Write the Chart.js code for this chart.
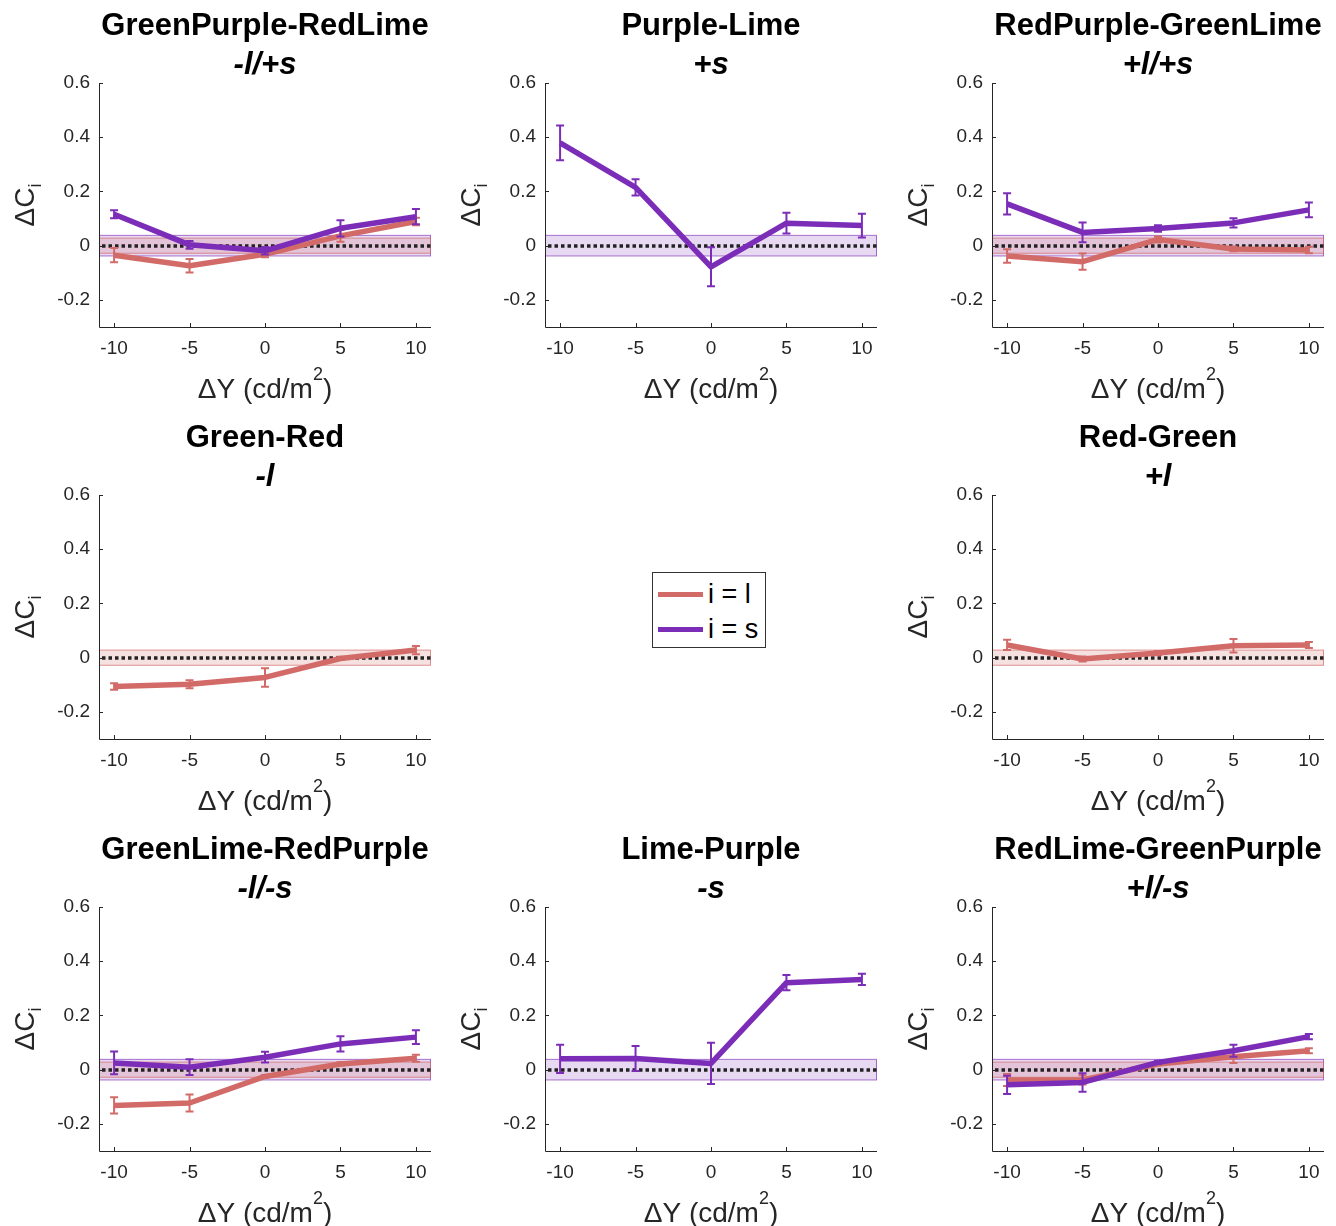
<!DOCTYPE html>
<html>
<head>
<meta charset="utf-8">
<script src="https://cdn.jsdelivr.net/npm/chart.js@4.4.1/dist/chart.umd.min.js"></script>
<style>
  body { margin: 0; background: #fff; width: 1336px; height: 1226px; overflow: hidden; position: relative; font-family: "Liberation Sans", Arial, sans-serif; }
  canvas { position: absolute; }
  #legend { position: absolute; left: 652px; top: 572px; width: 114px; height: 76px; box-sizing: border-box; border: 1px solid #333; background: #fff; }
  #legend .row { position: absolute; left: 5px; height: 30px; }
  #legend .swatch { position: absolute; left: 0; width: 45px; height: 5px; }
  #legend .txt { position: absolute; left: 50px; font-size: 27px; line-height: 27px; color: #000; white-space: nowrap; }
</style>
</head>
<body>
<div id="legend">
  <div class="row" style="top:8px"><div class="swatch" style="top:11px;background:#D26B68"></div><div class="txt" style="top:0px">i = l</div></div>
  <div class="row" style="top:43px"><div class="swatch" style="top:11px;background:#7B2DB8"></div><div class="txt" style="top:0px">i = s</div></div>
</div>
<script>
const xValues = [-10, -5, 0, 5, 10];
const xTicks = [-10, -5, 0, 5, 10];
const yTicks = [-0.2, 0, 0.2, 0.4, 0.6];

const panelTitles = ['GreenPurple-RedLime', 'Purple-Lime', 'RedPurple-GreenLime', 'Green-Red', 'Red-Green', 'GreenLime-RedPurple', 'Lime-Purple', 'RedLime-GreenPurple'];
const panelSigns = ['-l/+s', '+s', '+l/+s', '-l', '+l', '-l/-s', '-s', '+l/-s'];
const panelSlots = [0, 1, 2, 3, 5, 6, 7, 8];

// i = l (red) means and error half-widths, per panel
const lMean = [
  [-0.035, -0.074, -0.032, 0.036, 0.089],
  null,
  [-0.038, -0.059, 0.023, -0.012, -0.016],
  [-0.106, -0.098, -0.073, -0.003, 0.028],
  [0.047, -0.005, 0.017, 0.044, 0.047],
  [-0.132, -0.123, -0.025, 0.021, 0.042],
  null,
  [-0.038, -0.038, 0.021, 0.048, 0.070]
];
const lErr = [
  [0.026, 0.025, 0.011, 0.022, 0.014],
  null,
  [0.025, 0.030, 0.011, 0.009, 0.012],
  [0.012, 0.015, 0.034, 0.006, 0.015],
  [0.019, 0.009, 0.008, 0.025, 0.011],
  [0.030, 0.031, 0.005, 0.006, 0.013],
  null,
  [0.022, 0.017, 0.005, 0.023, 0.009]
];
// i = s (purple)
const sMean = [
  [0.116, 0.003, -0.019, 0.064, 0.107],
  [0.379, 0.215, -0.078, 0.083, 0.074],
  [0.154, 0.049, 0.063, 0.084, 0.132],
  null,
  null,
  [0.025, 0.009, 0.046, 0.095, 0.120],
  [0.040, 0.041, 0.023, 0.321, 0.333],
  [-0.056, -0.047, 0.027, 0.070, 0.122]
];
const sErr = [
  [0.015, 0.014, 0.014, 0.030, 0.028],
  [0.064, 0.030, 0.072, 0.038, 0.044],
  [0.039, 0.036, 0.012, 0.017, 0.027],
  null,
  null,
  [0.042, 0.029, 0.020, 0.028, 0.025],
  [0.052, 0.046, 0.076, 0.028, 0.021],
  [0.034, 0.034, 0.006, 0.022, 0.010]
];
// noise bands around zero
const lBand = 0.028;
const sBand = 0.038;

const lColor = '#D26B68';
const sColor = '#7B2DB8';
const axisColor = '#262626';
const FONT = '"Liberation Sans", Arial, sans-serif';

const decor = {
  id: 'decor',
  beforeDatasetsDraw(chart) {
    const { ctx, chartArea: a, scales: { y } } = chart;
    ctx.save();
    const bands = [];
    if (chart.$hasS) bands.push([sBand, 'rgba(123,45,184,0.18)', 'rgba(123,45,184,0.65)']);
    if (chart.$hasL) bands.push([lBand, 'rgba(210,107,104,0.2)', 'rgba(210,107,104,0.7)']);
    bands.forEach(([w, fill, edge]) => {
      const t = y.getPixelForValue(w), b = y.getPixelForValue(-w);
      ctx.fillStyle = fill;
      ctx.fillRect(a.left, t, a.right - a.left, b - t);
      ctx.strokeStyle = edge;
      ctx.lineWidth = 1;
      ctx.strokeRect(a.left + 0.5, t, a.right - a.left - 1, b - t);
    });
    const y0 = Math.round(y.getPixelForValue(0));
    ctx.strokeStyle = '#222';
    ctx.lineWidth = 3.5;
    ctx.setLineDash([3.5, 3]);
    ctx.beginPath();
    ctx.moveTo(a.left + 3, y0);
    ctx.lineTo(a.right, y0);
    ctx.stroke();
    ctx.restore();
  },
  afterDatasetDraw(chart, args) {
    const ds = chart.data.datasets[args.index];
    const { ctx, scales: { x, y } } = chart;
    ctx.save();
    ctx.strokeStyle = ds.borderColor;
    ctx.lineWidth = 2;
    ds.data.forEach((p, i) => {
      const px = x.getPixelForValue(p.x);
      const top = y.getPixelForValue(p.y + ds.errs[i]);
      const bot = y.getPixelForValue(p.y - ds.errs[i]);
      ctx.beginPath();
      ctx.moveTo(px, top); ctx.lineTo(px, bot);
      ctx.moveTo(px - 4, top); ctx.lineTo(px + 4, top);
      ctx.moveTo(px - 4, bot); ctx.lineTo(px + 4, bot);
      ctx.stroke();
    });
    ctx.restore();
  },
  afterDraw(chart) {
    const { ctx, chartArea: a, scales: { x, y } } = chart;
    ctx.save();
    ctx.strokeStyle = axisColor;
    ctx.lineWidth = 1;
    ctx.beginPath();
    ctx.moveTo(a.left + 0.5, a.top);
    ctx.lineTo(a.left + 0.5, a.bottom + 0.5);
    ctx.lineTo(a.right, a.bottom + 0.5);
    xTicks.forEach(v => {
      const px = Math.round(x.getPixelForValue(v)) + 0.5;
      ctx.moveTo(px, a.bottom); ctx.lineTo(px, a.bottom - 4);
    });
    yTicks.forEach(v => {
      const py = Math.round(y.getPixelForValue(v)) + 0.5;
      ctx.moveTo(a.left, py); ctx.lineTo(a.left + 4, py);
    });
    ctx.stroke();

    // x axis title with superscript
    ctx.fillStyle = axisColor;
    ctx.textBaseline = 'alphabetic';
    ctx.textAlign = 'left';
    const main = '28px ' + FONT, small = '18px ' + FONT;
    ctx.font = main;
    const w1 = ctx.measureText('\u0394Y (cd/m').width;
    const w3 = ctx.measureText(')').width;
    ctx.font = small;
    const w2 = ctx.measureText('2').width;
    let sx = (a.left + a.right) / 2 - (w1 + w2 + w3) / 2;
    const base = a.bottom + 71;
    ctx.font = main; ctx.fillText('\u0394Y (cd/m', sx, base);
    ctx.font = small; ctx.fillText('2', sx + w1, base - 18);
    ctx.font = main; ctx.fillText(')', sx + w1 + w2, base);

    // y axis title with subscript
    ctx.font = main;
    const v1 = ctx.measureText('\u0394C').width;
    ctx.font = small;
    const v2 = ctx.measureText('i').width;
    ctx.translate(34, (a.top + a.bottom) / 2);
    ctx.rotate(-Math.PI / 2);
    const st = -(v1 + v2) / 2;
    ctx.font = main; ctx.fillText('\u0394C', st, 0);
    ctx.font = small; ctx.fillText('i', st + v1, 7);
    ctx.restore();
  }
};

panelTitles.forEach((title, k) => {
  const slot = panelSlots[k];
  const col = slot % 3, row = Math.floor(slot / 3);
  const canvas = document.createElement('canvas');
  canvas.width = 440;
  canvas.height = 412;
  canvas.style.left = [0, 446, 893][col] + 'px';
  canvas.style.top = (row * 412) + 'px';
  document.body.appendChild(canvas);

  const datasets = [];
  if (sMean[k]) datasets.push({
    label: 'i = s', data: xValues.map((x, i) => ({ x, y: sMean[k][i] })), errs: sErr[k],
    borderColor: sColor, borderWidth: 5.5, pointRadius: 0, tension: 0, borderJoinStyle: 'round'
  });
  if (lMean[k]) datasets.push({
    label: 'i = l', data: xValues.map((x, i) => ({ x, y: lMean[k][i] })), errs: lErr[k],
    borderColor: lColor, borderWidth: 5.5, pointRadius: 0, tension: 0, borderJoinStyle: 'round'
  });

  const chart = new Chart(canvas, {
    type: 'line',
    data: { datasets },
    options: {
      responsive: false,
      animation: false,
      devicePixelRatio: 1,
      layout: { padding: { left: 0, right: 9, top: 0, bottom: 0 } },
      plugins: {
        legend: { display: false },
        tooltip: { enabled: false },
        title: {
          display: true, text: title, fullSize: false, color: '#000',
          font: { family: FONT, size: 31, weight: 'bold', lineHeight: '35px' },
          padding: { top: 9, bottom: 0 }
        },
        subtitle: {
          display: true, text: panelSigns[k], fullSize: false, color: '#000',
          font: { family: FONT, size: 31, weight: 'bold', style: 'italic', lineHeight: '35px' },
          padding: { top: 4, bottom: 0 }
        }
      },
      scales: {
        x: {
          type: 'linear', min: -11, max: 11,
          afterBuildTicks: s => { s.ticks = xTicks.map(v => ({ value: v })); },
          afterFit: s => { s.height = 85; },
          grid: { display: false, drawTicks: false },
          border: { display: false },
          ticks: { color: axisColor, font: { family: FONT, size: 19 }, padding: 10, maxRotation: 0, autoSkip: false, callback: v => String(v) }
        },
        y: {
          type: 'linear', min: -0.3, max: 0.6,
          afterBuildTicks: s => { s.ticks = yTicks.map(v => ({ value: v })); },
          afterFit: s => { s.width = 99; },
          grid: { display: false, drawTicks: false },
          border: { display: false },
          ticks: { color: axisColor, font: { family: FONT, size: 19 }, padding: 9, autoSkip: false, callback: v => String(v) }
        }
      }
    },
    plugins: [decor]
  });
  chart.$hasS = !!sMean[k];
  chart.$hasL = !!lMean[k];
  chart.draw();
});
</script>
</body>
</html>
